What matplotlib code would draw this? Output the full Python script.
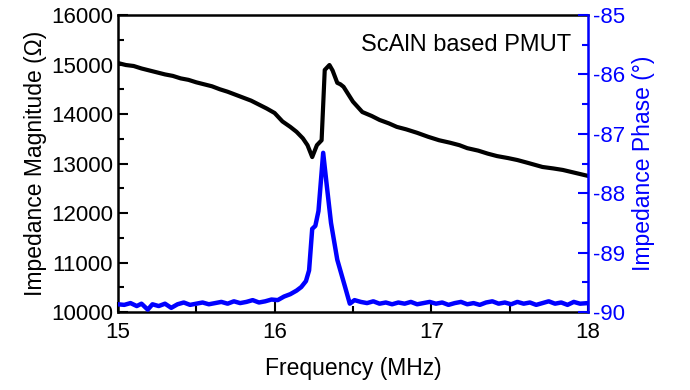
import matplotlib
matplotlib.use("Agg")
import matplotlib.pyplot as plt
from matplotlib.ticker import MultipleLocator

plt.rcParams['font.family'] = ['Liberation Sans', 'DejaVu Sans']
plt.rcParams['axes.unicode_minus'] = False

# impedance magnitude (Ohm) vs frequency (MHz)
freq_mag = [15.00, 15.05, 15.10, 15.15, 15.20, 15.25, 15.30, 15.35, 15.40, 15.45,
            15.50, 15.55, 15.60, 15.65, 15.70, 15.75, 15.80, 15.85, 15.90, 15.95,
            16.00, 16.05, 16.10, 16.14, 16.18, 16.21, 16.24, 16.27, 16.30, 16.32,
            16.35, 16.37, 16.40, 16.42, 16.44, 16.47, 16.50, 16.56, 16.62, 16.67,
            16.73, 16.78, 16.84, 16.91, 16.98, 17.05, 17.12, 17.18, 17.23, 17.30,
            17.36, 17.42, 17.49, 17.55, 17.62, 17.71, 17.78, 17.84, 17.92, 18.00]
magnitude = [15030, 14990, 14970, 14920, 14880, 14840, 14800, 14770, 14720, 14690,
             14640, 14600, 14560, 14500, 14450, 14390, 14330, 14270, 14190, 14110,
             14020, 13850, 13740, 13640, 13510, 13370, 13130, 13370, 13470, 14890,
             14990, 14880, 14630, 14600, 14550, 14400, 14250, 14040, 13960, 13880,
             13810, 13740, 13690, 13620, 13540, 13470, 13420, 13370, 13310, 13260,
             13200, 13150, 13110, 13070, 13010, 12930, 12900, 12870, 12810, 12750]

# impedance phase (deg) vs frequency (MHz)
freq_phase = [15.00, 15.04, 15.08, 15.12, 15.15, 15.19, 15.22, 15.26, 15.30, 15.34,
              15.38, 15.42, 15.46, 15.50, 15.54, 15.58, 15.62, 15.66, 15.70, 15.74,
              15.78, 15.82, 15.86, 15.90, 15.94, 15.98, 16.02, 16.06, 16.10, 16.14,
              16.17, 16.20, 16.22, 16.24, 16.26, 16.28, 16.31, 16.33, 16.36, 16.40,
              16.45, 16.48, 16.51, 16.55, 16.59, 16.63, 16.67, 16.71, 16.75, 16.79,
              16.83, 16.87, 16.91, 16.95, 16.99, 17.03, 17.07, 17.11, 17.15, 17.19,
              17.23, 17.27, 17.31, 17.35, 17.39, 17.43, 17.47, 17.51, 17.55, 17.59,
              17.63, 17.67, 17.71, 17.75, 17.79, 17.83, 17.87, 17.91, 17.95, 18.00]
phase = [-89.87, -89.88, -89.85, -89.90, -89.86, -89.96, -89.87, -89.90, -89.86, -89.93,
         -89.87, -89.84, -89.88, -89.86, -89.84, -89.87, -89.85, -89.83, -89.86, -89.82,
         -89.85, -89.83, -89.80, -89.84, -89.82, -89.79, -89.80, -89.74, -89.70, -89.64,
         -89.58, -89.48, -89.30, -88.60, -88.55, -88.30, -87.32, -87.80, -88.50, -89.12,
         -89.58, -89.86, -89.80, -89.83, -89.85, -89.82, -89.86, -89.84, -89.87, -89.84,
         -89.86, -89.83, -89.87, -89.85, -89.83, -89.86, -89.84, -89.88, -89.85, -89.83,
         -89.87, -89.85, -89.88, -89.84, -89.82, -89.86, -89.84, -89.87, -89.83, -89.86,
         -89.84, -89.88, -89.85, -89.82, -89.86, -89.84, -89.88, -89.83, -89.86, -89.85]

fig = plt.figure(figsize=(6.9, 3.9), dpi=100)
ax = fig.add_axes([0.171, 0.2, 0.681, 0.7615])
ax2 = ax.twinx()

ax.plot(freq_mag, magnitude, color='black', lw=3.0, zorder=3)
ax2.plot(freq_phase, phase, color='#0000ff', lw=3.2)

ax.set_xlim(15, 18)
ax.set_ylim(10000, 16000)
ax2.set_ylim(-90, -85)

ax.xaxis.set_major_locator(MultipleLocator(1))
ax.xaxis.set_minor_locator(MultipleLocator(0.5))
ax.yaxis.set_major_locator(MultipleLocator(1000))
ax.yaxis.set_minor_locator(MultipleLocator(500))
ax2.yaxis.set_major_locator(MultipleLocator(1))
ax2.yaxis.set_minor_locator(MultipleLocator(0.5))

tfs = 16
lfs = 16.5
ax.tick_params(which='both', direction='in', top=False, right=False, labelsize=tfs, width=1.5)
ax.tick_params(which='major', length=7)
ax.tick_params(which='minor', length=4)
ax.tick_params(axis='x', pad=7)
ax2.tick_params(which='both', direction='in', colors='#0000ff', labelsize=tfs, width=1.5)
ax2.tick_params(which='major', length=7)
ax2.tick_params(which='minor', length=4)

for s in ['left', 'top', 'bottom']:
    ax.spines[s].set_linewidth(1.8)
ax2.spines['right'].set_color('#0000ff')
ax2.spines['right'].set_linewidth(1.8)
for s in ['left', 'top', 'bottom']:
    ax2.spines[s].set_visible(False)

ax.set_xlabel('Frequency (MHz)', fontsize=lfs, labelpad=10)
ax.set_ylabel('Impedance Magnitude (\u03a9)', fontsize=lfs, labelpad=3)
ax2.set_ylabel('Impedance Phase (\u00b0)', fontsize=lfs, color='#0000ff', labelpad=5)

ax.text(0.965, 0.9, 'ScAlN based PMUT', transform=ax.transAxes, ha='right', va='center',
        fontsize=17)

fig.savefig('out.png', dpi=100)
